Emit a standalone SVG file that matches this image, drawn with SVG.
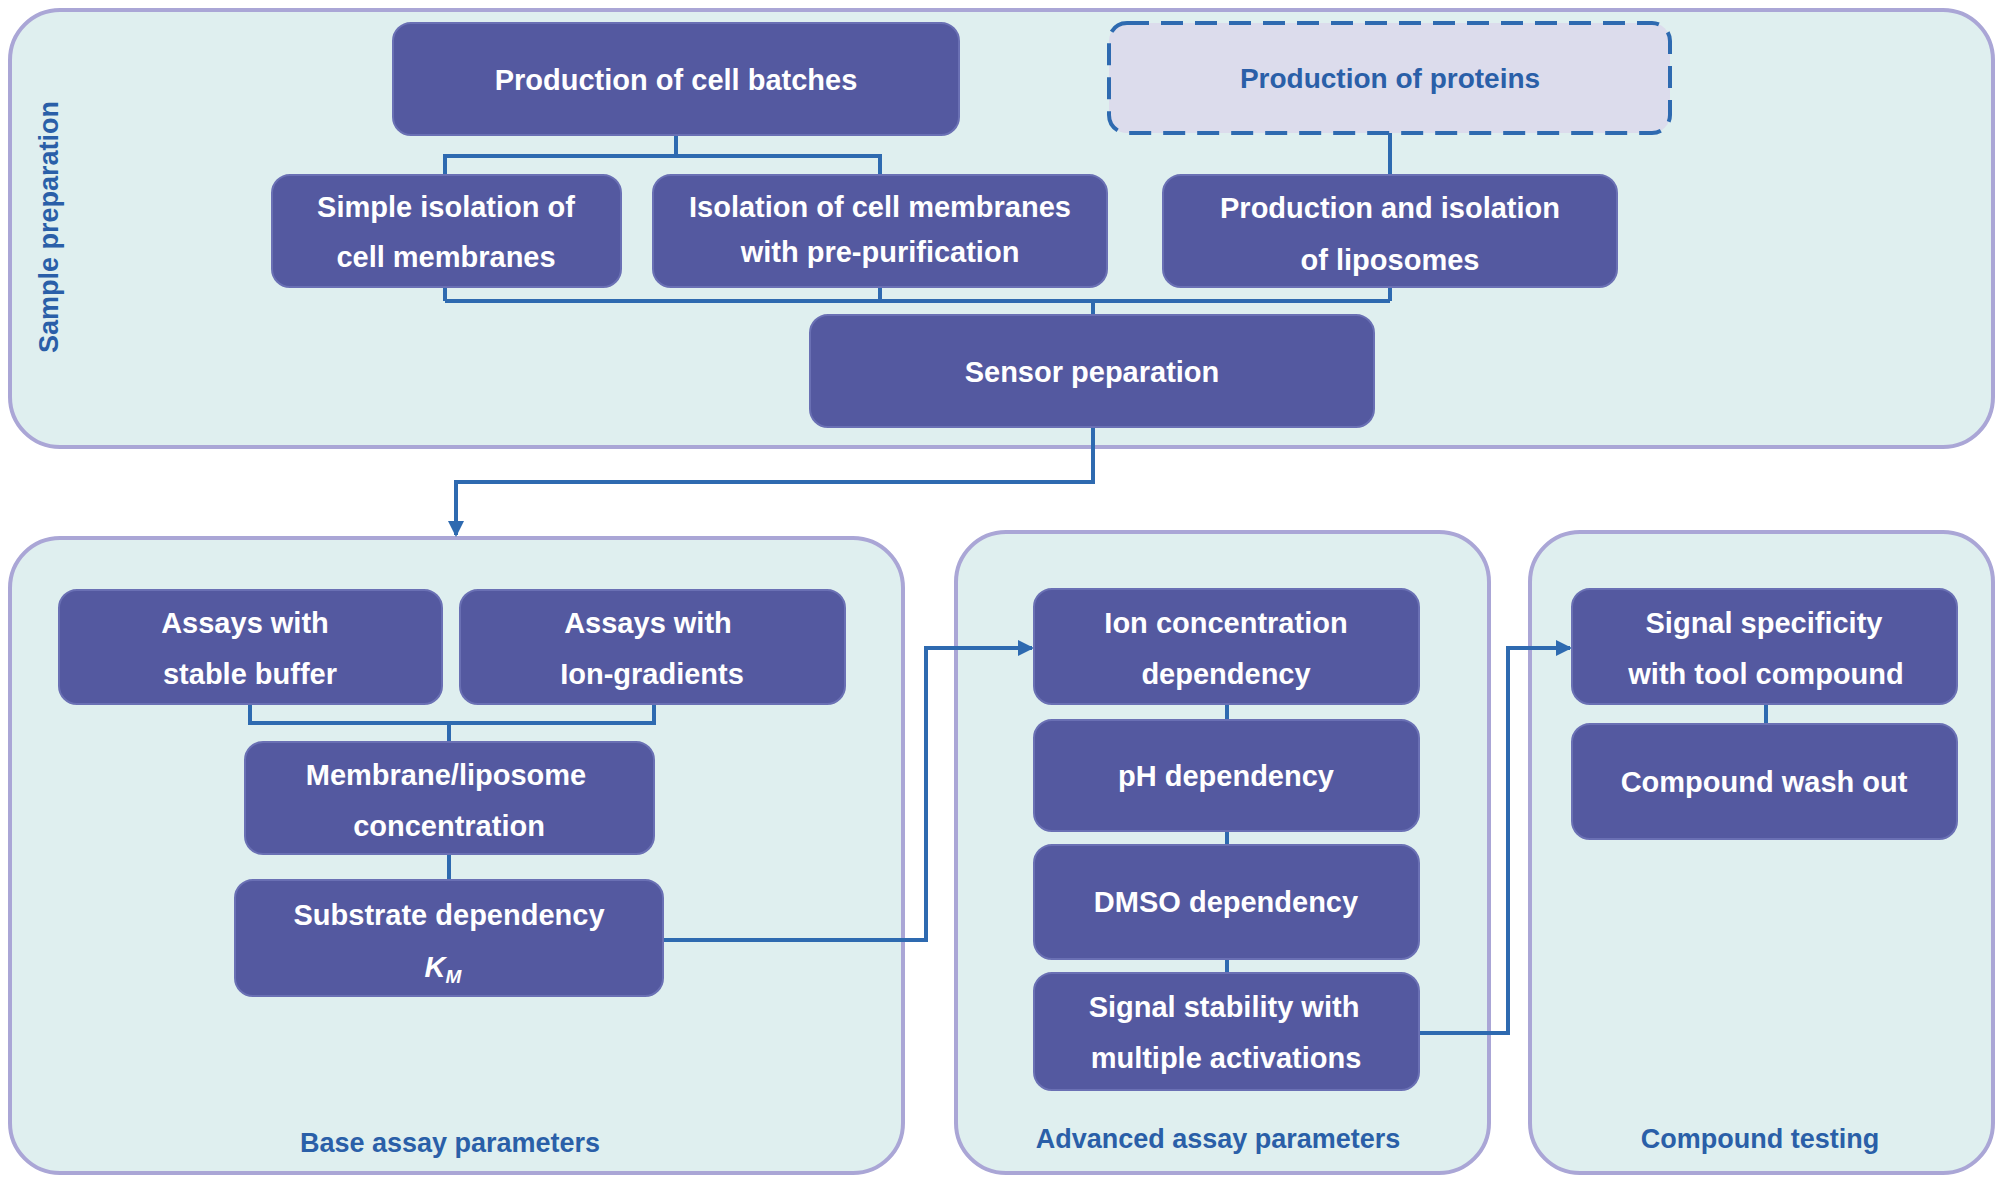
<svg xmlns="http://www.w3.org/2000/svg" width="1999" height="1181" viewBox="0 0 1999 1181">
<defs>
<style>
.panel{fill:#dfefef;stroke:#aaa6d6;stroke-width:4}
.box{fill:#5459a0;stroke:#6a70b4;stroke-width:2}
.bt{fill:#fff;font-family:"Liberation Sans",Arial,sans-serif;font-weight:bold;font-size:29px;text-anchor:middle}
.lab{fill:#2a5fa8;font-family:"Liberation Sans",Arial,sans-serif;font-weight:bold;font-size:27px;text-anchor:middle}
.c{fill:none;stroke:#2e6ab0;stroke-width:4}
</style>
<marker id="ah" markerWidth="10" markerHeight="10" refX="8" refY="5" orient="auto" markerUnits="userSpaceOnUse"><path d="M0,0 L10,5 L0,10 z" fill="#2e6ab0"/></marker>
<marker id="ah2" markerWidth="16" markerHeight="16" refX="14" refY="8" orient="auto" markerUnits="userSpaceOnUse"><path d="M0,0 L16,8 L0,16 z" fill="#2e6ab0"/></marker>
</defs>
<g id="panels">
<rect class="panel" x="10" y="10" width="1983" height="437" rx="50"/>
<rect class="panel" x="10" y="538" width="893" height="635" rx="50"/>
<rect class="panel" x="956" y="532" width="533" height="641" rx="50"/>
<rect class="panel" x="1530" y="532" width="463" height="641" rx="50"/>
<text class="lab" transform="translate(58,227) rotate(-90)">Sample preparation</text>
<text class="lab" x="450" y="1152">Base assay parameters</text>
<text class="lab" x="1218" y="1148">Advanced assay parameters</text>
<text class="lab" x="1760" y="1148">Compound testing</text>
</g>
<g id="connectors">
<path class="c" d="M676,135 V156 M445,175 V156 H880 V175"/>
<path class="c" d="M1390,133 V175"/>
<path class="c" d="M445,287 V301 M880,287 V301 M1390,287 V301 M445,301 H1390 M1093,301 V315"/>
<path class="c" d="M1093,427 V482 H456 V535" marker-end="url(#ah2)"/>
<path class="c" d="M250,704 V723 H654 V704 M449,723 V742"/>
<path class="c" d="M449,854 V880"/>
<path class="c" d="M663,940 H926 V648 H1032" marker-end="url(#ah2)"/>
<path class="c" d="M1227,704 V720 M1227,831 V845 M1227,959 V973"/>
<path class="c" d="M1419,1033 H1508 V648 H1570" marker-end="url(#ah2)"/>
<path class="c" d="M1766,704 V724"/>
</g>
<g id="n1"><rect class="box" x="393" y="23" width="566" height="112" rx="18"/><text class="bt" x="676" y="90">Production  of cell batches</text></g>
<g id="n2"><rect x="1109" y="23" width="561" height="110" rx="18" fill="#dcdcec" stroke="#2e6ab0" stroke-width="4" stroke-dasharray="22,12"/><text class="bt" x="1390" y="88" fill="#2a5fa8" style="fill:#2a5fa8;font-size:28px">Production of proteins</text></g>
<g id="n3"><rect class="box" x="272" y="175" width="349" height="112" rx="18"/><text class="bt" x="446" y="217">Simple isolation  of</text><text class="bt" x="446" y="267">cell membranes</text></g>
<g id="n4"><rect class="box" x="653" y="175" width="454" height="112" rx="18"/><text class="bt" x="880" y="217">Isolation of cell membranes</text><text class="bt" x="880" y="262">with pre-purification</text></g>
<g id="n5"><rect class="box" x="1163" y="175" width="454" height="112" rx="18"/><text class="bt" x="1390" y="218">Production  and isolation</text><text class="bt" x="1390" y="270">of liposomes</text></g>
<g id="n6"><rect class="box" x="810" y="315" width="564" height="112" rx="18"/><text class="bt" x="1092" y="382">Sensor peparation</text></g>
<g id="n7"><rect class="box" x="59" y="590" width="383" height="114" rx="18"/><text class="bt" x="245" y="633">Assays with</text><text class="bt" x="250" y="684">stable buffer</text></g>
<g id="n8"><rect class="box" x="460" y="590" width="385" height="114" rx="18"/><text class="bt" x="648" y="633">Assays with</text><text class="bt" x="652" y="684">Ion-gradients</text></g>
<g id="n9"><rect class="box" x="245" y="742" width="409" height="112" rx="18"/><text class="bt" x="446" y="785">Membrane/liposome</text><text class="bt" x="449" y="836">concentration</text></g>
<g id="n10"><rect class="box" x="235" y="880" width="428" height="116" rx="18"/><text class="bt" x="449" y="925">Substrate dependency</text><text class="bt" x="443" y="977" font-style="italic">K<tspan font-size="19" dy="6">M</tspan></text></g>
<g id="n11"><rect class="box" x="1034" y="589" width="385" height="115" rx="18"/><text class="bt" x="1226" y="633">Ion concentration</text><text class="bt" x="1226" y="684">dependency</text></g>
<g id="n12"><rect class="box" x="1034" y="720" width="385" height="111" rx="18"/><text class="bt" x="1226" y="786">pH dependency</text></g>
<g id="n13"><rect class="box" x="1034" y="845" width="385" height="114" rx="18"/><text class="bt" x="1226" y="912">DMSO dependency</text></g>
<g id="n14"><rect class="box" x="1034" y="973" width="385" height="117" rx="18"/><text class="bt" x="1224" y="1017">Signal stability with</text><text class="bt" x="1226" y="1068">multiple activations</text></g>
<g id="n15"><rect class="box" x="1572" y="589" width="385" height="115" rx="18"/><text class="bt" x="1764" y="633">Signal specificity</text><text class="bt" x="1766" y="684">with tool compound</text></g>
<g id="n16"><rect class="box" x="1572" y="724" width="385" height="115" rx="18"/><text class="bt" x="1764" y="792">Compound  wash out</text></g>
</svg>
